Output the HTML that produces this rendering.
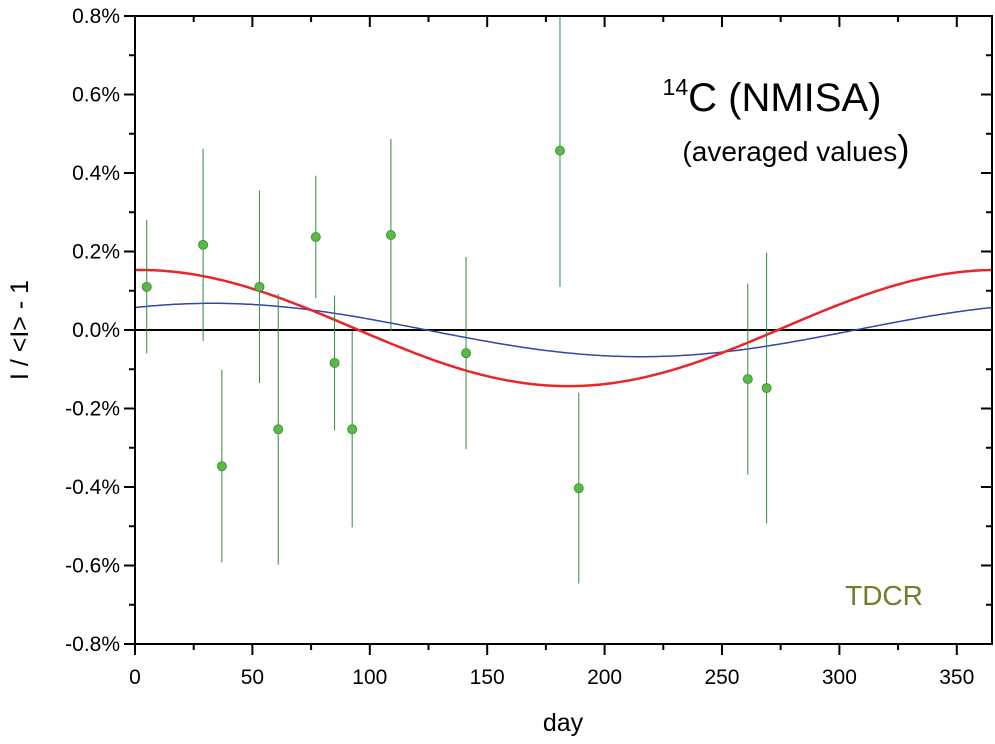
<!DOCTYPE html>
<html><head><meta charset="utf-8"><style>
body{margin:0;background:#fff}
svg{display:block;font-family:"Liberation Sans",Arial,sans-serif}
</style></head><body>
<svg id="chart" width="995" height="744" viewBox="0 0 995 744">
<g id="curves"></g><g id="points"></g><g id="axes"></g>
<text x="772" y="111" font-size="40" text-anchor="middle"><tspan font-size="23" dy="-16">14</tspan><tspan dy="16">C (NMISA)</tspan></text>
<text x="796" y="161" font-size="28" text-anchor="middle">(averaged values<tspan font-size="37">)</tspan></text>
<text x="884" y="605" font-size="28" fill="#7a7a2a" text-anchor="middle">TDCR</text>
<text x="563" y="731" font-size="25" text-anchor="middle">day</text>
<text transform="translate(28,330) rotate(-90)" font-size="25" text-anchor="middle">I / &lt;I&gt; - 1</text>
</svg>
<script>
const days=[5,29,37,53,61,77,85,92.5,109,141,181,189,261,269];
const values=[0.11,0.217,-0.347,0.11,-0.253,0.237,-0.084,-0.253,0.242,-0.059,0.457,-0.403,-0.125,-0.148];
const errors=[0.17,0.245,0.245,0.245,0.345,0.156,0.172,0.25,0.245,0.245,0.347,0.243,0.243,0.345];
const xTicks=[0,50,100,150,200,250,300,350];
const yTicks=[-0.8,-0.6,-0.4,-0.2,0,0.2,0.4,0.6,0.8];
const redParams=[0.148,2,0.005];
const blueParams=[0.068,33,0];
const X0=135,X1=992,Y0=16,Y1=644;
const xs=d=>X0+(d/365)*(X1-X0);
const ys=v=>Y0+(0.8-v)/1.6*(Y1-Y0);
const NS="http://www.w3.org/2000/svg";
function mk(tag,attrs,parent){const e=document.createElementNS(NS,tag);for(const k in attrs)e.setAttribute(k,attrs[k]);document.getElementById(parent).appendChild(e);return e;}
const defs=document.createElementNS(NS,'defs');defs.innerHTML='<clipPath id="cp"><rect x="135" y="16" width="857" height="628"/></clipPath>';document.getElementById('chart').prepend(defs);
document.getElementById('curves').setAttribute('clip-path','url(#cp)');
document.getElementById('points').setAttribute('clip-path','url(#cp)');
let z=mk('line',{x1:X0,x2:X1,y1:ys(0),y2:ys(0),stroke:'#000','stroke-width':2},'curves');


function curve(p,color,w,name){let d='';for(let i=0;i<=365;i+=1){const v=p[2]+p[0]*Math.cos(2*Math.PI*(i-p[1])/365);d+=(i?'L':'M')+xs(i).toFixed(1)+','+ys(v).toFixed(1);}
const e=mk('path',{d:d,fill:'none',stroke:color,'stroke-width':w},'curves');

}
curve(blueParams,'#3344aa',1.5,'blue-fit-curve');
curve(redParams,'#e8262a',2.5,'red-fit-curve');
days.forEach((d,i)=>{
const eb=mk('line',{x1:xs(d),x2:xs(d),y1:ys(values[i]+errors[i]),y2:ys(values[i]-errors[i]),stroke:'#2e8b3e','stroke-width':1},'points');


const c=mk('circle',{cx:xs(d),cy:ys(values[i]),r:4.5,fill:'#5cb848',stroke:'#3e9a35','stroke-width':1},'points');


});
const fr=mk('rect',{x:X0,y:Y0,width:X1-X0,height:Y1-Y0,fill:'none',stroke:'#000','stroke-width':2},'axes');


for(let d=0;d<=365;d+=25){const maj=d%50===0,L=maj?11:6;
mk('line',{x1:xs(d),x2:xs(d),y1:Y1,y2:Y1+L,stroke:'#000','stroke-width':2},'axes');
mk('line',{x1:xs(d),x2:xs(d),y1:Y0,y2:Y0+L,stroke:'#000','stroke-width':2},'axes');}
for(let k=-8;k<=8;k++){const v=k/10,maj=k%2===0,L=maj?11:6;
mk('line',{x1:X0-L,x2:X0,y1:ys(v),y2:ys(v),stroke:'#000','stroke-width':2},'axes');
mk('line',{x1:X1-L,x2:X1,y1:ys(v),y2:ys(v),stroke:'#000','stroke-width':2},'axes');}
xTicks.forEach(t=>{const e=mk('text',{x:xs(t),y:Y1+40,'font-size':21,'text-anchor':'middle'},'axes');e.textContent=t;

});
yTicks.forEach(t=>{const e=mk('text',{x:X0-15,y:ys(t)+7,'font-size':21,'text-anchor':'end'},'axes');e.textContent=t.toFixed(1)+'%';

});
</script>
</body></html>
